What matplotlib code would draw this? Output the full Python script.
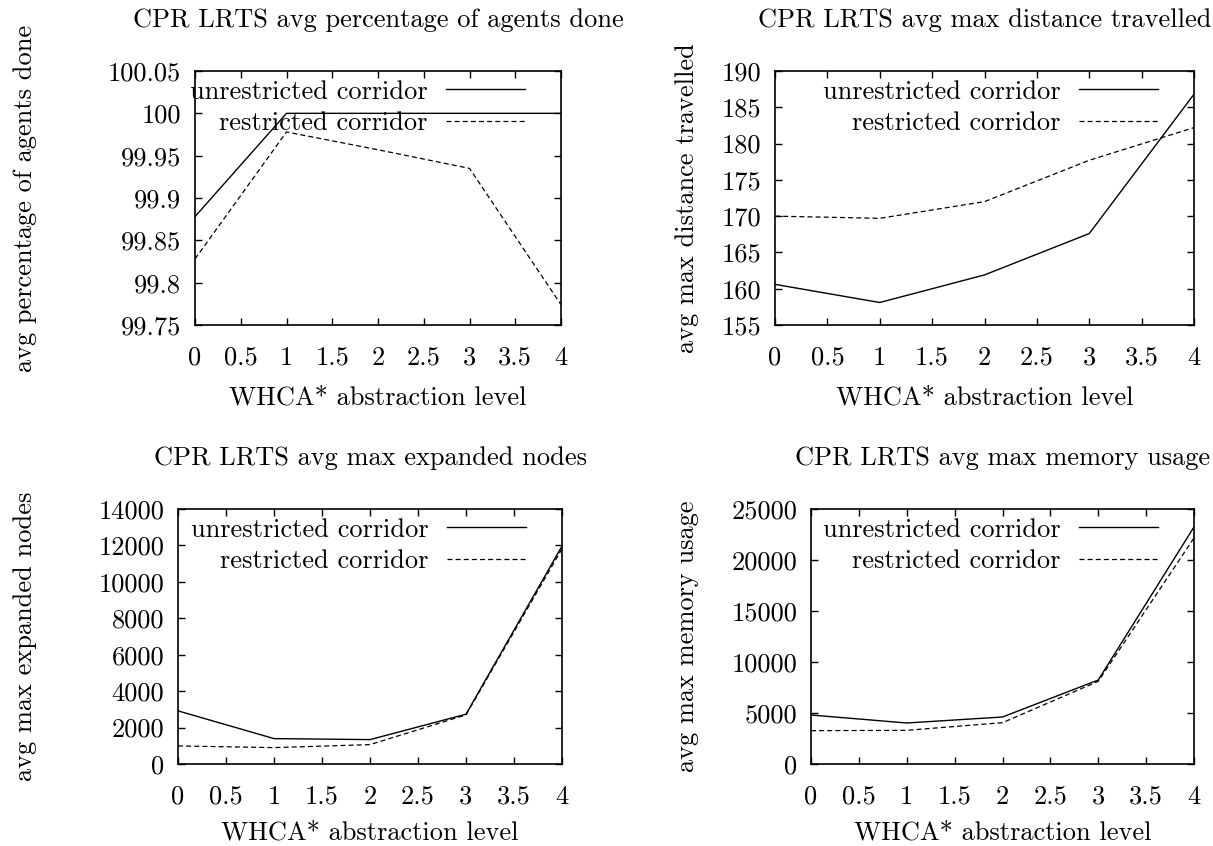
import matplotlib.pyplot as plt
from matplotlib.ticker import FormatStrFormatter, MultipleLocator

plt.rcParams['font.family'] = 'serif'
plt.rcParams['font.serif'] = ['cmr10', 'DejaVu Serif']
plt.rcParams['axes.formatter.use_mathtext'] = True
plt.rcParams['font.size'] = 19

# abstraction levels
levels = [0, 1, 2, 3, 4]

# percentage of agents done
done_unres = [99.878, 100.0, 100.0, 100.0, 100.0]
done_res = [99.828, 99.978, 99.957, 99.935, 99.774]

# max distance travelled
dist_unres = [160.6, 158.1, 161.9, 167.6, 186.8]
dist_res = [170.0, 169.7, 172.0, 177.7, 182.2]

# max expanded nodes
exp_unres = [2917, 1394, 1339, 2734, 11963]
exp_res = [991, 899, 1064, 2697, 11816]

# max memory usage
mem_unres = [4804, 4020, 4608, 8235, 23235]
mem_res = [3268, 3301, 4052, 8105, 22157]

W, H = 1213, 846
fig = plt.figure(figsize=(W / 100, H / 100), dpi=100)

panels = [
    # (left, top, right, bottom) in px, title, ylabel, data, ylim, ystep, yfmt
    ((195, 71, 561, 325), 'CPR LRTS avg percentage of agents done',
     'avg percentage of agents done', done_unres, done_res, (99.75, 100.05), 0.05, '%g'),
    ((775, 71, 1194, 325), 'CPR LRTS avg max distance travelled',
     'avg max distance travelled', dist_unres, dist_res, (155, 190), 5, '%g'),
    ((178, 509, 562, 764), 'CPR LRTS avg max expanded nodes',
     'avg max expanded nodes', exp_unres, exp_res, (0, 14000), 2000, '%d'),
    ((811, 509, 1194, 764), 'CPR LRTS avg max memory usage',
     'avg max memory usage', mem_unres, mem_res, (0, 25000), 5000, '%d'),
]

for (l, t, r, b), title, ylab, yu, yr, ylim, ystep, yfmt in panels:
    ax = fig.add_axes([l / W, 1 - b / H, (r - l) / W, (b - t) / H])
    ax.plot(levels, yu, color='black', lw=1.0, label='unrestricted corridor')
    ax.plot(levels, yr, color='black', lw=0.9, dashes=(4, 2.5), label='restricted corridor')
    ax.set_xlim(0, 4)
    ax.set_ylim(*ylim)
    ax.xaxis.set_major_locator(MultipleLocator(0.5))
    ax.yaxis.set_major_locator(MultipleLocator(ystep))
    ax.xaxis.set_major_formatter(FormatStrFormatter('%g'))
    ax.yaxis.set_major_formatter(FormatStrFormatter(yfmt))
    ax.tick_params(direction='in', length=5, width=1, top=True, right=True,
                   labelsize=19)
    ax.tick_params(axis='x', pad=15)
    ax.tick_params(axis='y', pad=10)
    for s in ax.spines.values():
        s.set_linewidth(1.2)
    ax.set_title(title, fontsize=19, pad=32)
    # bottom row sits close to the figure edge
    ax.set_xlabel('WHCA* abstraction level', fontsize=19,
                  labelpad=12 if t < 400 else 9)
    ax.set_ylabel(ylab, fontsize=19)
    xl = 37 if l < 400 else 699
    ax.yaxis.set_label_coords(xl / W, 1 - (t + b) / 2 / H, transform=fig.transFigure)
    ax.legend(loc='upper right', frameon=False, markerfirst=False,
              bbox_to_anchor=(1 - 36 / (r - l), 1 - 9 / (b - t)),
              borderpad=0, borderaxespad=0, handlelength=3.0,
              handletextpad=0.7, labelspacing=0.3, fontsize=19)

fig.savefig('out.png', dpi=100)
